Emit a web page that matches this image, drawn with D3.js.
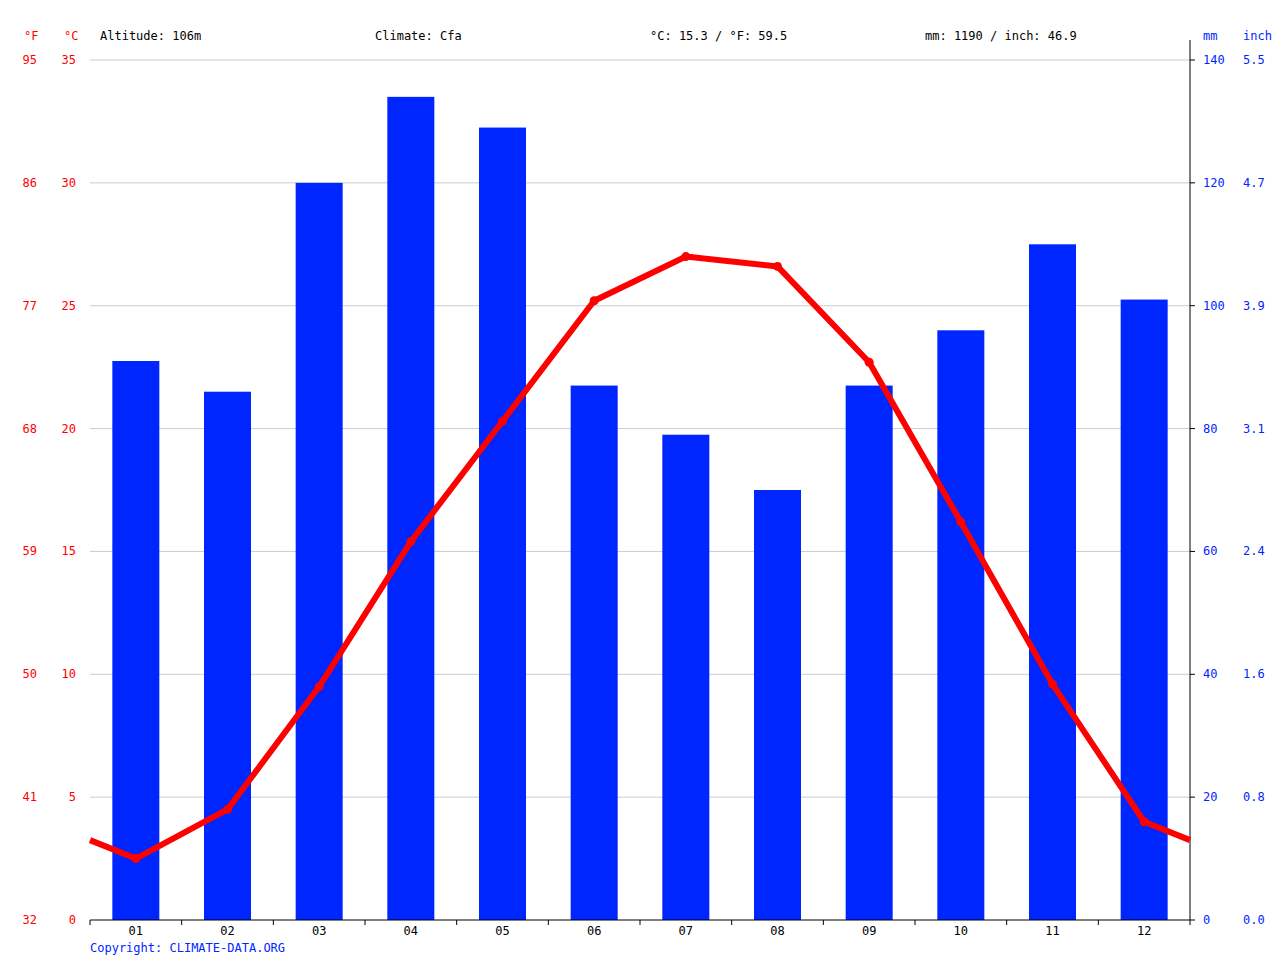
<!DOCTYPE html>
<html><head><meta charset="utf-8">
<script src="https://cdn.jsdelivr.net/npm/d3@7/dist/d3.min.js"></script>
<style>body{margin:0;background:#fff}text{font-family:"DejaVu Sans Mono",monospace;font-size:12px}</style>
</head><body><svg id="c" width="1280" height="960"></svg>
<script>
const months=["01","02","03","04","05","06","07","08","09","10","11","12"];
const precip=[91,86,120,134,129,87,79,70,87,96,110,101];
const temp=[2.5,4.5,9.5,15.4,20.3,25.2,27.0,26.6,22.7,16.2,9.6,4.0];
const cTicks=[0,5,10,15,20,25,30,35];
const fLabels=["32","41","50","59","68","77","86","95"];
const mmTicks=[0,20,40,60,80,100,120,140];
const inchLabels=["0.0","0.8","1.6","2.4","3.1","3.9","4.7","5.5"];
const header=[["Altitude: 106m",100],["Climate: Cfa",375],["°C: 15.3 / °F: 59.5",650],["mm: 1190 / inch: 46.9",925]];

const svg=d3.select("#c");
const L=90,R=1190,T=60,B=920;
const x=d3.scaleBand().domain(months).range([L,R]);
const yC=d3.scaleLinear().domain([0,35]).range([B,T]);
const yM=d3.scaleLinear().domain([0,140]).range([B,T]);
const red="#ff0000",blue="#0026ff";

svg.append("g").selectAll("line").data(cTicks.slice(1)).join("line")
 .attr("x1",L).attr("x2",R).attr("y1",d=>yC(d)).attr("y2",d=>yC(d)).attr("stroke","#cccccc");
svg.append("g").selectAll("rect").data(precip).join("rect")
 .attr("x",(d,i)=>x(months[i])+x.bandwidth()/2-23.5).attr("width",47)
 .attr("y",d=>yM(d)).attr("height",d=>B-yM(d)).attr("fill",blue);

// axes
svg.append("line").attr("x1",L).attr("x2",R).attr("y1",B).attr("y2",B).attr("stroke","#000");
svg.append("line").attr("x1",R).attr("x2",R).attr("y1",40).attr("y2",B).attr("stroke","#000");
const bounds=d3.range(13).map(i=>L+i*x.bandwidth());
svg.append("g").selectAll("line").data(bounds).join("line")
 .attr("x1",d=>d).attr("x2",d=>d).attr("y1",B).attr("y2",B+5).attr("stroke","#000");
svg.append("g").selectAll("text").data(months).join("text")
 .attr("x",d=>x(d)+x.bandwidth()/2).attr("y",B+15).attr("text-anchor","middle").text(d=>d);
svg.append("g").selectAll("line").data(mmTicks).join("line")
 .attr("x1",R).attr("x2",R+5).attr("y1",d=>yM(d)).attr("y2",d=>yM(d)).attr("stroke","#000");

// temp line with wrap-around
const cx=i=>x(months[i])+x.bandwidth()/2;
const edge=(temp[0]+temp[11])/2;
const pts=[[L,yC(edge)]].concat(temp.map((t,i)=>[cx(i),yC(t)])).concat([[R,yC(edge)]]);
svg.append("path").attr("d",d3.line()(pts)).attr("fill","none").attr("stroke",red).attr("stroke-width",6).attr("stroke-linejoin","round");
svg.append("g").selectAll("circle").data(temp).join("circle")
 .attr("cx",(d,i)=>cx(i)).attr("cy",d=>yC(d)).attr("r",4.5).attr("fill",red);

// labels
svg.append("g").selectAll("text").data(cTicks).join("text").attr("fill",red)
 .attr("x",76).attr("y",d=>yC(d)+4).attr("text-anchor","end").text(d=>d);
svg.append("g").selectAll("text").data(fLabels).join("text").attr("fill",red)
 .attr("x",37).attr("y",(d,i)=>yC(cTicks[i])+4).attr("text-anchor","end").text(d=>d);
svg.append("g").selectAll("text").data(mmTicks).join("text").attr("fill",blue)
 .attr("x",1203).attr("y",d=>yM(d)+4).text(d=>d);
svg.append("g").selectAll("text").data(inchLabels).join("text").attr("fill",blue)
 .attr("x",1243).attr("y",(d,i)=>yM(mmTicks[i])+4).text(d=>d);
svg.append("text").attr("x",24).attr("y",40).attr("fill",red).text("°F");
svg.append("text").attr("x",64).attr("y",40).attr("fill",red).text("°C");
svg.append("text").attr("x",1203).attr("y",40).attr("fill",blue).text("mm");
svg.append("text").attr("x",1243).attr("y",40).attr("fill",blue).text("inch");
svg.append("g").selectAll("text").data(header).join("text")
 .attr("x",d=>d[1]).attr("y",40).text(d=>d[0]);
svg.append("text").attr("x",90).attr("y",952).attr("fill",blue).text("Copyright: CLIMATE-DATA.ORG");
</script></body></html>
